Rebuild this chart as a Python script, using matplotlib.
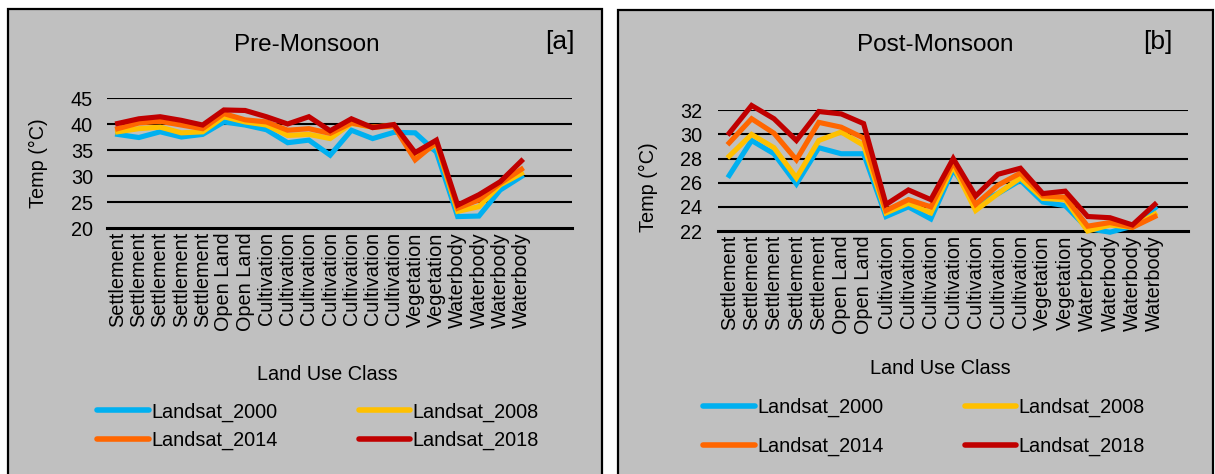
import matplotlib
matplotlib.use("Agg")
import matplotlib.pyplot as plt
from matplotlib.patches import Rectangle

plt.rcParams['font.family'] = ['Liberation Sans', 'DejaVu Sans']

categories = ["Settlement"] * 5 + ["Open Land"] * 2 + ["Cultivation"] * 7 + \
             ["Vegetation"] * 2 + ["Waterbody"] * 4
series_names = ["Landsat_2000", "Landsat_2008", "Landsat_2014", "Landsat_2018"]
colors = ["#00B0F0", "#FFC000", "#FF6600", "#C00000"]

pre_2000 = [38.0, 37.4, 38.5, 37.5, 38.0, 40.4, 39.8, 38.9, 36.4, 36.9,
            34.0, 38.8, 37.2, 38.4, 38.3, 34.6, 22.2, 22.3, 27.3, 29.9]
pre_2008 = [38.5, 39.1, 39.4, 38.3, 38.5, 41.4, 40.4, 39.8, 37.8, 38.0,
            37.2, 40.1, 39.4, 39.8, 33.5, 36.2, 23.2, 24.1, 28.3, 30.5]
pre_2014 = [39.1, 40.2, 40.5, 39.8, 39.1, 42.0, 40.8, 40.4, 38.8, 39.1,
            38.2, 40.2, 39.4, 39.6, 33.1, 36.5, 23.8, 25.4, 28.6, 31.3]
pre_2018 = [40.1, 41.0, 41.4, 40.7, 39.8, 42.7, 42.6, 41.4, 40.0, 41.4,
            38.7, 41.0, 39.3, 39.9, 34.5, 36.9, 24.4, 26.4, 28.9, 32.9]

post_2000 = [26.6, 29.5, 28.4, 25.9, 28.9, 28.4, 28.4, 23.2, 24.0, 23.0,
             27.1, 24.3, 25.1, 26.2, 24.4, 24.1, 22.2, 21.9, 22.4, 23.9]
post_2008 = [28.2, 30.0, 28.9, 26.4, 29.5, 30.2, 29.1, 23.5, 24.3, 23.5,
             27.4, 23.7, 25.1, 26.4, 24.7, 24.6, 22.0, 22.5, 22.3, 23.4]
post_2014 = [29.3, 31.3, 30.1, 27.9, 31.0, 30.6, 29.7, 23.7, 24.6, 24.0,
             27.7, 24.2, 25.8, 26.8, 24.9, 24.8, 22.4, 22.7, 22.3, 23.2]
post_2018 = [30.1, 32.4, 31.3, 29.5, 31.9, 31.7, 30.9, 24.2, 25.4, 24.6,
             28.0, 24.9, 26.7, 27.2, 25.1, 25.3, 23.2, 23.1, 22.5, 24.2]

pre_yticks = [20, 25, 30, 35, 40, 45]
post_yticks = [22, 24, 26, 28, 30, 32]

W, H = 1215, 474
fig = plt.figure(figsize=(W / 100, H / 100), dpi=100)
fig.patch.set_facecolor("white")

GRAY = "#C0C0C0"
FS = 14.3


def fx(px):
    return px / W


def fy(py):
    return 1 - py / H


# panel frames
for (x0, y0, x1, y1) in [(8, 9, 602, 478), (618, 10, 1213, 478)]:
    fig.patches.append(Rectangle((fx(x0), fy(y1)), fx(x1 - x0), (y1 - y0) / H,
                                 transform=fig.transFigure, facecolor=GRAY,
                                 edgecolor="black", linewidth=1.6, zorder=-10))


def make_panel(left, right, top, bottom, data, ylim, yticks, xmax, ypad,
               title, title_x, tag, tag_x, ylab_x, ylab_y, xlab_x, xlab_y,
               leg_center, leg_rowspace):
    ax = fig.add_axes([fx(left), fy(bottom), fx(right - left), (bottom - top) / H])
    ax.set_zorder(5)
    ax.patch.set_visible(False)
    x = list(range(len(categories)))
    handles = []
    for vals, c, name in zip(data, colors, series_names):
        h, = ax.plot(x, vals, color=c, lw=3.7, solid_joinstyle="miter",
                     clip_on=False, label=name, zorder=3)
        handles.append(h)
    ax.set_xlim(-0.5, xmax)
    ax.set_ylim(*ylim)
    ax.set_yticks(yticks)
    ax.set_yticklabels([str(t) for t in yticks], fontsize=FS)
    ax.set_xticks(x)
    ax.set_xticklabels(categories, rotation=90, fontsize=FS, va="top", ha="center")
    ax.tick_params(axis="both", length=0)
    ax.tick_params(axis="y", pad=ypad)
    ax.tick_params(axis="x", pad=3)
    for t in yticks[1:]:
        ax.axhline(t, color="black", lw=1.5, zorder=1)
    for s in ["top", "right", "left"]:
        ax.spines[s].set_visible(False)
    ax.spines["bottom"].set_linewidth(2.2)
    ax.spines["bottom"].set_zorder(2)
    fig.text(fx(title_x), fy(45), title, fontsize=17.5, ha="center", va="center")
    fig.text(fx(tag_x), fy(42), tag, fontsize=19, ha="center", va="center")
    fig.text(fx(ylab_x), fy(ylab_y), "Temp (°C)", fontsize=FS, rotation=90,
             ha="center", va="center")
    fig.text(fx(xlab_x), fy(xlab_y), "Land Use Class", fontsize=FS,
             ha="center", va="center")
    order = [0, 2, 1, 3]
    leg = fig.legend([handles[i] for i in order], [series_names[i] for i in order],
                     ncol=2, loc="center", bbox_to_anchor=(fx(leg_center[0]), fy(leg_center[1])),
                     frameon=False, fontsize=FS, handlelength=2.6, handletextpad=0.1,
                     columnspacing=4.1, labelspacing=leg_rowspace, borderaxespad=0)
    for lh in leg.get_lines():
        lh.set_linewidth(4)
        lh.set_solid_capstyle("round")
    return ax


make_panel(107, 572, 98, 228, [pre_2000, pre_2008, pre_2014, pre_2018],
           (20, 45), pre_yticks, 21.38, 10,
           "Pre-Monsoon", 307, "[a]", 560, 38, 163, 327, 375,
           (318, 426), 0.45)

make_panel(718, 1188, 110.3, 231, [post_2000, post_2008, post_2014, post_2018],
           (22, 32), post_yticks, 20.48, 11.5,
           "Post-Monsoon", 935, "[b]", 1158, 648, 187, 940, 369,
           (924, 427), 1.0)

fig.savefig("out.png", dpi=100, facecolor="white")
